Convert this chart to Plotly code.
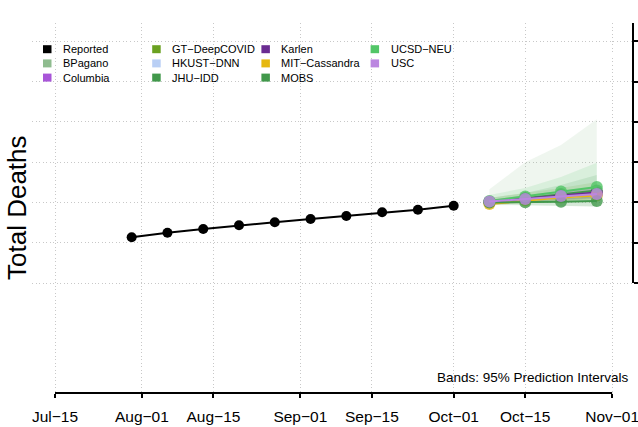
import plotly.graph_objects as go
from datetime import datetime

# ---------------- data ----------------
report_dates = ["2020-07-30", "2020-08-06", "2020-08-13", "2020-08-20", "2020-08-27",
                "2020-09-03", "2020-09-10", "2020-09-17", "2020-09-24", "2020-10-01"]
reported = [156700, 162400, 167000, 171600, 175300, 179400, 183100, 187700, 190900, 195900]

forecast_dates = ["2020-10-08", "2020-10-15", "2020-10-22", "2020-10-29"]

model_names = ["BPagano", "Columbia", "GT\u2212DeepCOVID", "HKUST\u2212DNN", "JHU\u2212IDD",
               "Karlen", "MIT\u2212Cassandra", "MOBS", "UCSD\u2212NEU", "USC"]
model_colors = ["#8fbc8f", "#a855d8", "#6aa121", "#b9cff5", "#41984b",
                "#6a2c91", "#e6b80f", "#41984b", "#52c667", "#bb86e0"]

med_bpagano = [201100, 204200, 207900, 211700]
med_columbia = [200500, 204800, 208600, 211700]
med_gt = [200500, 204200, 207900, 211700]
med_hkust = [199300, 203000, 206100, 209200]
med_jhu = [200500, 205500, 210400, 214800]
med_karlen = [200500, 204800, 208600, 212300]
med_mit = [198000, 202400, 206100, 208600]
med_mobs = [199900, 200100, 200700, 201700]
med_ucsd = [201700, 207300, 213500, 219100]
med_usc = [201100, 204200, 207900, 210500]

lo_bpagano = [196800, 196200, 195500, 194900]
hi_bpagano = [216300, 249800, 271200, 303100]
lo_columbia = [198500, 201000, 203000, 205000]
hi_columbia = [203000, 209000, 214500, 219000]
lo_gt = [198000, 200000, 202000, 204000]
hi_gt = [205500, 211700, 218000, 225300]
lo_hkust = [197500, 200500, 202500, 204500]
hi_hkust = [201500, 205500, 210000, 214000]
lo_jhu = [197000, 199000, 200000, 201000]
hi_jhu = [205500, 211700, 221600, 234000]
lo_karlen = [198500, 201500, 204000, 206000]
hi_karlen = [202500, 208000, 213000, 218500]
lo_mit = [196500, 199500, 202000, 203500]
hi_mit = [200000, 205500, 210500, 214000]
lo_mobs = [197500, 197000, 196000, 195000]
hi_mobs = [202500, 203500, 205500, 207500]
lo_ucsd = [198000, 200000, 203000, 205000]
hi_ucsd = [209200, 217900, 231500, 249300]
lo_usc = [199000, 201500, 204000, 206000]
hi_usc = [203500, 207000, 212000, 216000]

medians = [med_bpagano, med_columbia, med_gt, med_hkust, med_jhu,
           med_karlen, med_mit, med_mobs, med_ucsd, med_usc]
lows = [lo_bpagano, lo_columbia, lo_gt, lo_hkust, lo_jhu,
        lo_karlen, lo_mit, lo_mobs, lo_ucsd, lo_usc]
highs = [hi_bpagano, hi_columbia, hi_gt, hi_hkust, hi_jhu,
         hi_karlen, hi_mit, hi_mobs, hi_ucsd, hi_usc]

x_tick_vals = ["2020-07-15", "2020-08-01", "2020-08-15", "2020-09-01",
               "2020-09-15", "2020-10-01", "2020-10-15", "2020-11-01"]
x_tick_text = ["Jul\u221215", "Aug\u221201", "Aug\u221215", "Sep\u221201",
               "Sep\u221215", "Oct\u221201", "Oct\u221215", "Nov\u221201"]
y_tick_vals = [100000, 150000, 200000, 250000, 300000, 350000, 400000]

legend_names = ["Reported"] + model_names
legend_colors = ["#000000"] + model_colors

# ---------------- layout geometry ----------------
W, H = 638, 427
ML, MR, MT, MB = 32, 5, 23, 34
PW, PH = W - ML - MR, H - MT - MB
FONT = "Liberation Sans, Arial, Helvetica, sans-serif"

X_RANGE = ["2020-07-10 12:00", "2020-11-05 02:00"]
Y_RANGE = [100000 - 110 * 1240.7, 100000 + 260 * 1240.7]
GRID = "#c8c8c8"
GRID_DASH = "1px,2.5px"


def px(xp):
    return (xp - ML) / PW


def py(yp):
    return (MT + PH - yp) / PH


def date_frac(d):
    t0 = datetime.fromisoformat(X_RANGE[0])
    t1 = datetime.fromisoformat(X_RANGE[1])
    t = datetime.fromisoformat(d)
    return (t - t0).total_seconds() / (t1 - t0).total_seconds()


def val_frac(v):
    return (v - Y_RANGE[0]) / (Y_RANGE[1] - Y_RANGE[0])


def rgba(hexc, a):
    h = hexc.lstrip("#")
    r, g, b = int(h[0:2], 16), int(h[2:4], 16), int(h[4:6], 16)
    return f"rgba({r},{g},{b},{a})"


fig = go.Figure()

# prediction bands
for name, col, lo, hi in zip(model_names, model_colors, lows, highs):
    fig.add_trace(go.Scatter(
        x=forecast_dates + forecast_dates[::-1], y=hi + lo[::-1],
        fill="toself", fillcolor=rgba(col, 0.14), line=dict(width=0),
        mode="lines", showlegend=False, hoverinfo="skip"))

# reported
fig.add_trace(go.Scatter(
    x=report_dates, y=reported, mode="lines+markers", name="Reported",
    line=dict(color="black", width=2), marker=dict(color="black", size=10),
    showlegend=False))

# forecast medians
for name, col, med in zip(model_names, model_colors, medians):
    fig.add_trace(go.Scatter(
        x=forecast_dates, y=med, mode="lines+markers", name=name,
        line=dict(color=col, width=2),
        marker=dict(color=rgba(col, 0.8), size=12),
        showlegend=False))

shapes = []
annotations = []

# manual legend (4 columns x 3 rows)
for i, (nm, col) in enumerate(zip(legend_names, legend_colors)):
    c, r = divmod(i, 3)
    sx = 43 + 109.2 * c
    sy = 49.2 + 14.2 * r
    shapes.append(dict(type="rect", xref="paper", yref="paper",
                       x0=px(sx), x1=px(sx + 8.5), y0=py(sy + 4), y1=py(sy - 4),
                       fillcolor=col, line=dict(width=0)))
    annotations.append(dict(xref="paper", yref="paper", x=px(sx + 18), y=py(sy),
                            text=nm, showarrow=False, xanchor="left", yanchor="middle",
                            font=dict(size=11, color="black", family=FONT)))

# x-axis line from first to last tick
shapes.append(dict(type="line", xref="paper", yref="paper",
                   x0=date_frac(x_tick_vals[0]), x1=date_frac(x_tick_vals[-1]),
                   y0=0, y1=0, line=dict(color="black", width=2)))
# right y-axis line (from lowest tick up to the top)
shapes.append(dict(type="line", xref="paper", yref="paper", x0=1, x1=1,
                   y0=val_frac(y_tick_vals[0]), y1=1, line=dict(color="black", width=2)))

annotations.append(dict(xref="paper", yref="paper", x=px(631), y=py(377),
                        text="Bands: 95% Prediction Intervals", showarrow=False,
                        xanchor="right", yanchor="middle",
                        font=dict(size=13.5, color="black", family=FONT)))
annotations.append(dict(xref="paper", yref="paper", x=px(17), y=py(208),
                        text="Total Deaths", showarrow=False, textangle=-90,
                        xanchor="center", yanchor="middle",
                        font=dict(size=26, color="black", family=FONT)))

fig.update_layout(
    width=W, height=H,
    margin=dict(l=ML, r=MR, t=MT, b=MB, autoexpand=False),
    paper_bgcolor="white", plot_bgcolor="white",
    font=dict(family=FONT, color="black"),
    shapes=shapes, annotations=annotations,
    showlegend=False,
)
fig.update_xaxes(
    type="date", range=X_RANGE, automargin=False,
    tickvals=x_tick_vals, ticktext=x_tick_text,
    ticks="outside", ticklen=4, tickwidth=2, tickcolor="black",
    ticklabelstandoff=5, ticklabeloverflow="allow",
    tickfont=dict(size=15.5, color="black", family=FONT),
    showline=False, zeroline=False,
    showgrid=True, gridcolor=GRID, griddash=GRID_DASH, gridwidth=1,
)
fig.update_yaxes(
    side="right", range=Y_RANGE, automargin=False,
    tickvals=y_tick_vals, showticklabels=False,
    ticks="outside", ticklen=6, tickwidth=2, tickcolor="black",
    showline=False, zeroline=False,
    showgrid=True, gridcolor=GRID, griddash=GRID_DASH, gridwidth=1,
)

fig.write_html(
    "out.html",
    config={"displayModeBar": False},
    post_script="document.body.style.margin='0';document.body.style.padding='0';",
)
